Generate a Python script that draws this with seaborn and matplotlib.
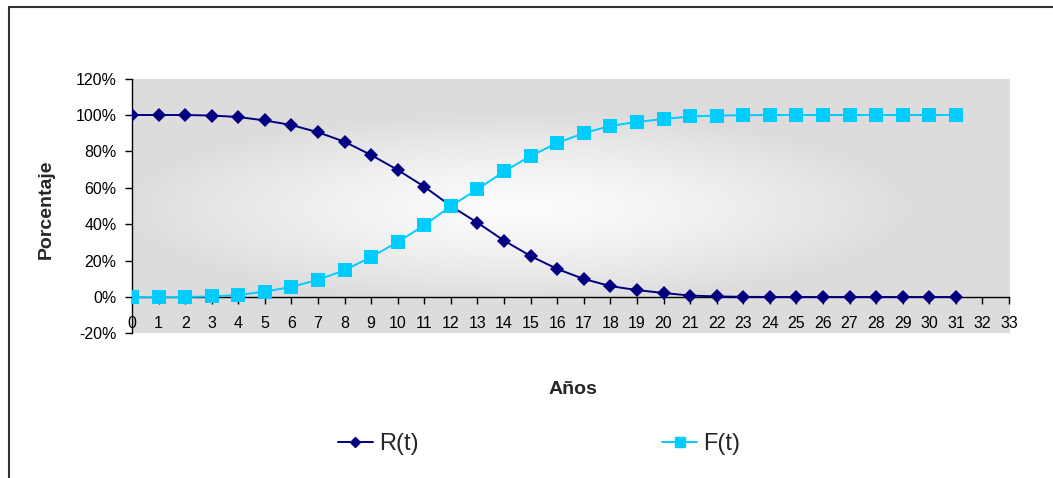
import numpy as np
import pandas as pd
import matplotlib
matplotlib.use("Agg")
import matplotlib.pyplot as plt
import seaborn as sns
from matplotlib.lines import Line2D

# ---- data ----
years = list(range(0, 32))
r_t = [100, 100, 100, 99.7, 98.9, 97.0, 94.5, 90.5, 85.3, 78.0, 69.8, 60.6,
       50.0, 40.8, 31.0, 22.5, 15.4, 9.9, 6.0, 3.8, 2.2, 0.8, 0.3, 0.1,
       0, 0, 0, 0, 0, 0, 0, 0]
f_t = [0, 0, 0, 0.3, 1.1, 3.0, 5.5, 9.5, 14.7, 22.0, 30.2, 39.4,
       50.0, 59.2, 69.0, 77.5, 84.6, 90.1, 94.0, 96.2, 97.8, 99.2, 99.7, 99.9,
       100, 100, 100, 100, 100, 100, 100, 100]
series_names = ["R(t)", "F(t)"]
y_ticks = [-20, 0, 20, 40, 60, 80, 100, 120]
x_ticks = list(range(0, 34))

df = pd.DataFrame({
    "Años": years * 2,
    "Porcentaje": r_t + f_t,
    "serie": [series_names[0]] * len(years) + [series_names[1]] * len(years),
})

sns.set_theme(style="white")
plt.rcParams["font.family"] = ["Liberation Sans", "DejaVu Sans"]

fig = plt.figure(figsize=(10.53, 4.78), dpi=100)
ax = fig.add_axes([132 / 1053, 1 - 333.4 / 478, 877 / 1053, 254.8 / 478])

# gradient background
gx, gy = np.meshgrid(np.linspace(-1, 1, 300), np.linspace(-1, 1, 150))
rr = np.sqrt(((gx + 0.12) / 0.9) ** 2 + ((gy - 0.02) / 0.75) ** 2)
val = 0.99 - 0.125 * np.clip(rr, 0, 1) ** 1.3
img = np.dstack([val, val, val])
ax.imshow(img, extent=[0, 1, 0, 1], transform=ax.transAxes, aspect="auto",
          zorder=0, interpolation="bilinear")

colors = {"R(t)": "#000080", "F(t)": "#00CCFF"}
sns.lineplot(data=df, x="Años", y="Porcentaje", hue="serie", style="serie",
             palette=colors, markers={"R(t)": "D", "F(t)": "s"},
             dashes=False, markersize=7, linewidth=1.4,
             markeredgewidth=0, ax=ax, legend=False, zorder=3)
for line, ms in zip(ax.get_lines(), [7, 9.5]):
    line.set_markersize(ms)

ax.set_xlim(0, 33)
ax.set_ylim(-20, 120)
ax.set_xticks(x_ticks)
ax.set_xticklabels([str(v) for v in x_ticks])
ax.set_yticks(y_ticks)
ax.set_yticklabels([f"{v}%" for v in y_ticks])

for s in ["top", "right"]:
    ax.spines[s].set_visible(False)
ax.spines["bottom"].set_position(("data", 0))
ax.spines["bottom"].set_color("black")
ax.spines["left"].set_color("black")
ax.spines["bottom"].set_linewidth(1.0)
ax.spines["left"].set_linewidth(1.0)
ax.spines["bottom"].set_zorder(2)

ax.tick_params(axis="x", direction="out", length=5, width=1, pad=9,
               labelsize=11.5, colors="black", bottom=True)
ax.tick_params(axis="y", direction="out", length=5, width=1, pad=6,
               labelsize=11.5, colors="black", left=True)

ax.set_xlabel("")
ax.set_ylabel("")
fig.text(573 / 1053, 1 - 390 / 478, "Años", ha="center", va="center",
         fontsize=14, fontweight="bold")
fig.text(46 / 1053, 1 - 209 / 478, "Porcentaje", ha="center", va="center",
         rotation=90, fontsize=14, fontweight="bold")

handles = [
    Line2D([], [], color=colors["R(t)"], marker="D", markersize=5, lw=1.4),
    Line2D([], [], color=colors["F(t)"], marker="s", markersize=7, lw=1.4),
]
fig.legend(handles, series_names, loc="center", bbox_to_anchor=(539 / 1053, 1 - 444 / 478),
           ncol=2, frameon=False, fontsize=17, handlelength=1.5, handletextpad=0.25,
           columnspacing=10.3)

# figure frame (top and left)
fig.add_artist(Line2D([9 / 1053, 9 / 1053], [0, 1 - 7 / 478], color="#333333",
                      lw=1.5, transform=fig.transFigure))
fig.add_artist(Line2D([9 / 1053, 1], [1 - 7 / 478, 1 - 7 / 478], color="#333333",
                      lw=1.5, transform=fig.transFigure))

fig.savefig("out.png", dpi=100)
